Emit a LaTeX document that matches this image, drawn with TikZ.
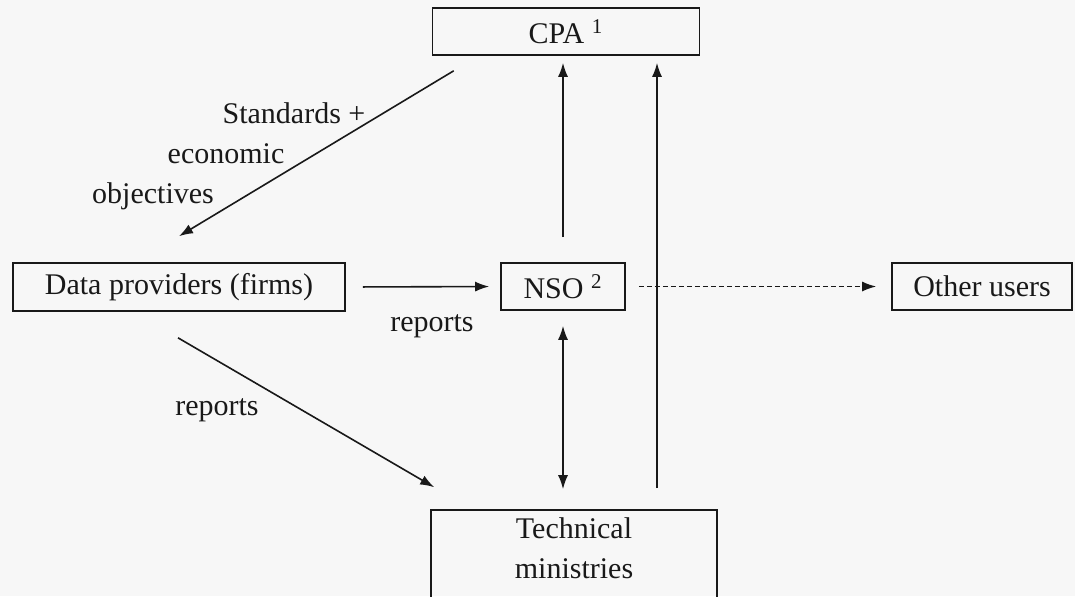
\documentclass[tikz,border=0pt]{standalone}
\usepackage{fontspec}
\setmainfont{Liberation Serif}
\usetikzlibrary{arrows.meta,positioning,calc}
\tikzset{
  box/.style={draw,line width=0.8pt,inner sep=0pt},
  arr/.style={-{Latex[length=7pt,width=5pt]},line width=0.8pt},
  arrboth/.style={{Latex[length=7pt,width=5pt]}-{Latex[length=7pt,width=5pt]},line width=0.8pt},
}

\begin{document}
\begin{tikzpicture}[x=0.5pt,y=-0.5pt,font=\fontsize{15}{20}\selectfont,color=black!90]
\fill[black!3] (0,0) rectangle (1075,596);
\clip (0,0) rectangle (1075,596);
% boxes
\node[box,minimum width=133.5pt,minimum height=23.5pt] (cpa)   at (566,31.5)  {CPA \textsuperscript{1}};
\node[box,minimum width=166pt,minimum height=24pt]     (data)  at (179,287)   {Data providers (firms)};
\node[box,minimum width=62pt,minimum height=23.5pt]    (nso)   at (563,286.5) {NSO \textsuperscript{2}};
\node[box,minimum width=90pt,minimum height=23.5pt]    (other) at (982,286.5) {Other users};
\node[box,minimum width=143pt,minimum height=50pt]     (tech)  at (574,560)   {};
\node[align=center] (techtxt) at (574,548) {Technical\\ministries};
% labels
\node (std)  at (294,113) {Standards +};
\node (eco)  at (226,154) {economic};
\node (obj)  at (153,196) {objectives};
\node (rep1) at (432,326) {reports};
\node (rep2) at (217,410) {reports};
% connectors
\coordinate (t1) at ($(tech.north)+(83,-21)$);
\draw[arr] ($(cpa.south west)+(22,15)$) -- ($(data.north)+(0,-26)$);
\draw[arr] ($(data.south)+(-1,26)$) -- ($(tech.north west)+(4,-22)$);
\draw[arr,shorten <=8.5pt,shorten >=5.5pt] (data.east) -- (nso.west);
\draw[arr,dash pattern=on 2.4pt off 1.6pt,shorten <=6.5pt,shorten >=7.5pt] (nso.east) -- (other.west);
\draw[arr,shorten <=12.5pt,shorten >=3.5pt] (nso.north) -- (nso.north |- cpa.south);
\draw[arrboth,shorten <=7.5pt,shorten >=10pt] (nso.south) -- (nso.south |- tech.north);
\draw[arr,shorten >=3.5pt] (t1) -- (t1 |- cpa.south);
\end{tikzpicture}
\end{document}
